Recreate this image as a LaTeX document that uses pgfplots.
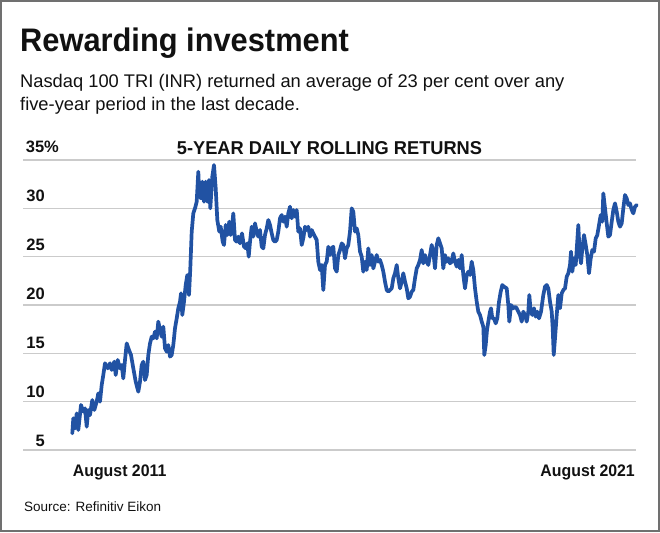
\documentclass[border=0pt]{standalone}
\usepackage{fontspec}
\setmainfont{Liberation Sans}
\newfontfamily\titlefont[FakeStretch=0.945]{Liberation Sans}
\newfontfamily\chtitlefont[FakeStretch=0.98]{Liberation Sans}
\newfontfamily\datefont[FakeStretch=0.95]{Liberation Sans}
\usepackage{pgfplots}
\pgfplotsset{compat=1.18}
\definecolor{lineblue}{HTML}{2152A3}
\definecolor{gridgray}{HTML}{CBCBCB}
\definecolor{framegray}{HTML}{707070}
\definecolor{txt}{HTML}{111111}

\pgfplotstableread{
x y
72.3 6.72
73.3 8.28
75.0 7.24
76.7 8.79
78.3 7.07
81.0 9.66
83.3 8.97
85.0 9.31
86.7 7.41
88.3 9.14
90.0 8.62
92.3 10.17
94.3 9.14
96.7 10.00
98.3 10.86
100.0 10.00
101.7 11.72
103.3 12.76
105.0 13.97
107.7 13.45
110.0 13.97
111.7 13.28
114.3 14.14
115.7 12.76
117.7 14.31
120.0 13.45
121.7 13.79
123.3 12.41
125.0 14.31
126.7 16.03
129.0 15.34
131.0 14.83
133.3 13.45
135.7 12.07
138.3 11.03
140.0 12.07
141.7 13.79
143.3 14.14
145.0 12.24
146.7 12.76
148.3 14.83
150.0 16.03
151.7 16.72
153.3 16.55
155.0 17.24
156.7 16.55
158.3 18.28
160.0 17.41
161.7 16.72
163.3 17.76
165.0 15.52
166.7 15.17
168.3 15.86
170.0 14.66
171.7 14.83
173.3 15.86
175.0 17.59
176.7 18.62
178.3 19.66
180.0 20.34
181.0 21.21
182.3 18.97
184.0 20.34
185.7 22.07
187.3 23.10
189.0 21.03
190.3 23.79
191.7 27.59
193.3 29.48
195.0 30.00
196.7 30.69
198.3 33.79
199.3 31.38
201.0 31.03
202.3 32.76
204.0 30.69
205.7 32.76
207.3 30.69
209.0 32.93
210.3 30.00
212.3 33.28
214.0 34.48
215.7 32.07
217.3 28.79
219.3 27.59
220.7 28.10
222.7 26.55
224.0 26.21
225.7 28.28
227.3 27.24
229.3 28.62
230.7 27.24
232.0 28.10
233.3 29.48
235.0 26.72
236.7 26.55
238.3 27.07
240.0 26.38
242.0 27.41
244.0 26.03
246.0 25.86
247.3 26.38
248.7 25.00
250.0 26.55
251.7 28.10
253.3 27.07
255.0 28.45
256.7 27.59
258.3 27.07
260.0 27.76
261.7 26.03
263.3 25.86
265.0 27.24
266.7 27.93
268.3 28.79
270.0 28.28
271.7 27.41
273.3 26.72
275.0 26.55
276.7 26.72
278.3 27.59
280.0 28.97
281.7 29.31
283.3 28.62
285.0 29.14
286.7 28.10
288.3 29.48
290.0 30.17
291.7 28.97
293.3 29.83
295.0 29.14
296.7 29.83
298.3 27.59
300.0 27.93
301.7 26.21
303.3 26.90
305.0 28.10
306.7 27.76
308.3 28.10
310.0 27.07
311.7 27.76
313.3 27.41
315.0 27.07
316.7 26.72
318.3 24.48
320.0 23.62
321.7 24.14
323.3 21.55
325.0 24.14
326.7 24.48
328.3 26.03
330.0 25.17
331.7 25.86
333.3 26.03
335.0 23.79
336.7 23.45
338.3 25.17
340.0 25.69
341.7 26.38
343.3 26.21
345.0 24.83
346.7 25.86
348.3 26.21
350.0 27.59
351.7 30.00
353.3 29.66
355.0 27.59
356.7 27.93
358.3 27.24
360.0 25.52
361.7 25.00
363.3 23.45
365.0 24.48
366.7 23.62
368.3 25.86
370.0 24.14
371.7 25.17
373.3 23.79
375.0 24.48
376.7 25.17
378.3 24.48
380.0 24.66
381.7 24.14
383.3 23.45
385.0 22.41
386.7 21.55
388.3 21.38
390.0 21.55
391.7 21.72
393.3 22.76
395.0 23.28
396.7 24.14
398.3 22.76
400.0 21.72
401.7 22.41
403.3 23.28
405.0 22.41
406.7 21.72
408.3 20.69
410.0 20.86
411.7 21.38
413.3 21.55
415.0 22.76
416.7 23.79
418.3 24.14
420.0 24.66
421.7 25.69
423.3 24.31
425.0 25.17
426.7 24.48
428.3 24.14
430.0 25.17
431.7 26.21
433.3 25.52
435.0 23.79
436.7 26.21
438.3 26.90
440.0 26.38
441.7 25.86
443.3 23.79
445.0 25.17
446.7 24.48
448.3 24.83
450.0 24.31
451.7 24.48
453.3 25.34
455.0 24.48
456.7 23.97
458.3 24.66
460.0 23.79
461.7 25.17
463.3 23.10
465.0 21.72
466.7 23.10
468.3 23.45
470.0 23.10
471.7 24.48
473.3 23.62
475.0 21.72
476.7 20.34
478.3 19.31
480.0 18.97
481.7 18.28
483.3 17.76
484.3 14.83
485.7 15.86
487.0 17.41
488.3 18.28
490.0 19.31
491.0 19.66
492.3 18.62
494.0 18.62
495.7 18.10
497.3 18.62
499.0 20.34
500.7 21.38
502.3 22.07
504.0 21.90
506.7 21.72
508.3 20.00
509.3 18.28
511.0 20.00
513.3 19.66
515.0 19.83
516.7 19.66
518.3 19.31
520.0 18.97
521.7 18.28
523.3 19.31
525.0 18.97
526.7 18.28
528.3 19.31
529.3 21.03
530.7 19.31
532.3 18.97
534.0 19.66
535.7 18.79
537.3 19.31
539.0 18.62
541.0 19.31
543.3 21.03
545.0 21.90
546.7 22.07
548.3 21.72
550.0 20.34
551.7 19.31
552.7 17.59
553.7 14.83
555.0 16.55
556.7 18.97
558.3 21.03
560.0 19.66
561.7 21.21
563.3 21.55
565.0 21.72
566.7 22.93
568.3 23.28
570.0 24.14
571.0 25.52
572.3 23.45
574.0 24.83
575.7 24.14
577.0 26.21
578.3 28.28
579.7 25.17
581.0 24.31
582.3 25.86
584.0 27.24
585.7 26.21
587.3 25.17
589.0 23.28
590.7 24.83
592.3 25.69
594.0 25.52
595.7 26.90
597.3 27.24
599.0 28.28
600.7 29.31
602.3 28.62
603.3 31.55
605.0 30.00
606.7 28.45
608.3 27.07
610.0 27.24
611.7 28.62
613.3 29.83
615.0 30.52
616.7 29.66
618.3 28.62
620.0 28.10
621.7 28.45
623.3 30.00
625.0 31.38
626.7 31.03
628.3 30.34
630.0 30.52
631.7 29.83
633.3 29.48
635.0 30.17
636.7 30.34
}\returns

\begin{document}
\begin{tikzpicture}[x=1bp,y=1bp]
\path[use as bounding box] (0,0) rectangle (660,-533);
\fill[white] (0,0) rectangle (660,-533);
\draw[framegray, line width=1.6bp] (1,-1) rectangle (659,-531);

% titles
\node[anchor=base west, inner sep=0, text=txt] at (20,-51.7)
  {\titlefont\bfseries\fontsize{32.6bp}{36bp}\selectfont Rewarding investment};
\node[anchor=base west, inner sep=0, text=txt] at (20,-87.3)
  {\fontsize{18.3bp}{22bp}\selectfont Nasdaq 100 TRI (INR) returned an average of 23 per cent over any};
\node[anchor=base west, inner sep=0, text=txt] at (20,-110.7)
  {\fontsize{18.3bp}{22bp}\selectfont five-year period in the last decade.};
\node[anchor=base west, inner sep=0, text=txt] at (176.7,-155)
  {\chtitlefont\bfseries\fontsize{18.6bp}{22bp}\selectfont 5-YEAR DAILY ROLLING RETURNS};

\begin{axis}[
  at={(23bp,-450bp)}, anchor=south west,
  scale only axis, width=613bp, height=290bp,
  xmin=23, xmax=636, ymin=5, ymax=35,
  axis line style={draw=none},
  major tick length=0pt,
  xtick=\empty,
  ytick={5,10,15,20,25,30,35},
  yticklabels={},
  ymajorgrids,
  major grid style={gridgray, line width=1.4bp},
  clip=false,
]
\addplot[lineblue, line width=3.7bp, line join=round, line cap=round] table[x=x,y=y] {\returns};
\end{axis}

% y tick labels
\begin{scope}[every node/.style={inner sep=0, text=txt, font=\bfseries\fontsize{16.5bp}{19bp}\selectfont}]
\node[anchor=base west] at (25.7,-152.7) {35\%};
\node[anchor=base east] at (45,-201.7) {30};
\node[anchor=base east] at (45,-250.7) {25};
\node[anchor=base east] at (45,-299.3) {20};
\node[anchor=base east] at (45,-348.3) {15};
\node[anchor=base east] at (45,-397.7) {10};
\node[anchor=base east] at (45,-446) {5};
\end{scope}

% x labels
\node[anchor=base west, inner sep=0, text=txt] at (72.7,-476)
  {\datefont\bfseries\fontsize{16.7bp}{19bp}\selectfont August 2011};
\node[anchor=base east, inner sep=0, text=txt] at (635,-476)
  {\datefont\bfseries\fontsize{16.7bp}{19bp}\selectfont August 2021};

% source
\node[anchor=base west, inner sep=0, text=txt] at (24,-511.7)
  {\fontsize{13.5bp}{16bp}\selectfont Source: Refinitiv Eikon};
\end{tikzpicture}
\end{document}
